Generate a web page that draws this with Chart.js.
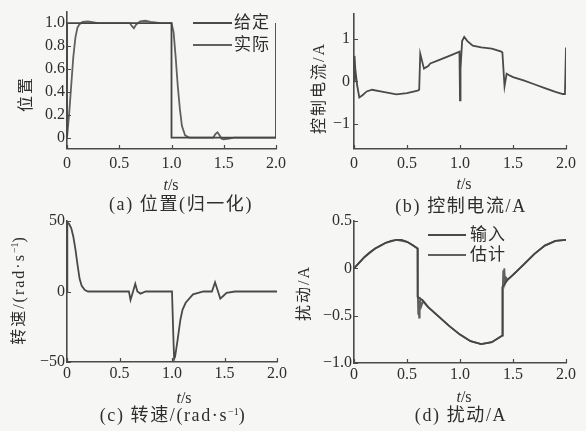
<!DOCTYPE html>
<html>
<head>
<meta charset="utf-8">
<script src="https://cdn.jsdelivr.net/npm/chart.js@4.4.1/dist/chart.umd.min.js"></script>
<style>
  html, body { margin: 0; padding: 0; background: #f6f6f4; }
  #wrap { position: relative; width: 586px; height: 431px; overflow: hidden; }
  canvas { position: absolute; left: 0; top: 0; }
  .t { position: absolute; white-space: nowrap; color: #2e2e2e;
       font-family: "Liberation Serif", "Noto Sans CJK SC", serif; line-height: 1; }
  .c { transform: translate(-50%, -50%); }
  .r { transform: translate(-50%, -50%) rotate(-90deg); }
  .cap { font-size: 18px; letter-spacing: 1.6px; }
  .ax { font-size: 16px; }
  .yt { font-size: 16px; letter-spacing: 2px; }
  .leg { font-size: 17px; letter-spacing: 1px; }
  .ln { position: absolute; height: 0; border-top: 2px solid #4a4a4a; }
  sup { font-size: 10px; vertical-align: 6px; letter-spacing: 0; }
</style>
</head>
<body>
<div id="wrap">
  <canvas id="ca" width="586" height="431"></canvas>
  <canvas id="cb" width="586" height="431"></canvas>
  <canvas id="cc" width="586" height="431"></canvas>
  <canvas id="cd" width="586" height="431"></canvas>

  <div class="t ax c" style="left:171px;top:185px"><i>t</i>/s</div>
  <div class="t ax c" style="left:464px;top:184px"><i>t</i>/s</div>
  <div class="t ax c" style="left:184px;top:398px"><i>t</i>/s</div>
  <div class="t ax c" style="left:464px;top:397px"><i>t</i>/s</div>

  <div class="t cap c" style="left:181px;top:204px">(a) 位置(归一化)</div>
  <div class="t cap c" style="left:461px;top:206px">(b) 控制电流/A</div>
  <div class="t cap c" style="left:173px;top:415px">(c) 转速/(rad·s<sup>−1</sup>)</div>
  <div class="t cap c" style="left:461px;top:415px">(d) 扰动/A</div>

  <div class="t yt r" style="left:26px;top:94px">位置</div>
  <div class="t yt r" style="left:319px;top:88px">控制电流/A</div>
  <div class="t yt r" style="left:18px;top:290px">转速/(rad·s<sup>−1</sup>)</div>
  <div class="t yt r" style="left:304px;top:293px">扰动/A</div>

  <div class="ln" style="left:193px;top:22px;width:39px"></div>
  <div class="t leg" style="left:234px;top:14px">给定</div>
  <div class="ln" style="left:193px;top:44px;width:39px;border-color:#606060"></div>
  <div class="t leg" style="left:234px;top:36px">实际</div>

  <div class="ln" style="left:428px;top:234px;width:38px"></div>
  <div class="t leg" style="left:470px;top:226px">输入</div>
  <div class="ln" style="left:428px;top:254px;width:38px;border-color:#606060"></div>
  <div class="t leg" style="left:470px;top:246px">估计</div>
</div>
<script>
// ---------- tick values / labels ----------
const xTickVals = [0, 0.5, 1.0, 1.5, 2.0];
const xTickLabels = ['0', '0.5', '1.0', '1.5', '2.0'];
const aTickVals = [0, 0.2, 0.4, 0.6, 0.8, 1.0];
const aTickLabels = ['0', '0.2', '0.4', '0.6', '0.8', '1.0'];
const bTickVals = [-1, 0, 1];
const bTickLabels = ['−1', '0', '1'];
const cTickVals = [-50, 0, 50];
const cTickLabels = ['−50', '0', '50'];
const dTickVals = [-1.0, -0.5, 0, 0.5];
const dTickLabels = ['−1.0', '−0.5', '0', '0.5'];

// ---------- (a) position ----------
const tGiven = [0, 0, 1.0, 1.0, 2.0, 2.0];
const posGiven = [0, 1, 1, 0, 0, 1];
const tActual = [0, 0.02, 0.04, 0.06, 0.08, 0.10, 0.12, 0.15, 0.2, 0.3, 0.6, 0.62, 0.64, 0.66, 0.7, 0.75, 0.8, 0.9, 1.0, 1.02, 1.04, 1.06, 1.08, 1.10, 1.13, 1.17, 1.4, 1.42, 1.44, 1.46, 1.48, 1.5, 1.55, 1.6, 2.0];
const posActual = [0, 0.2, 0.45, 0.7, 0.87, 0.96, 0.99, 1.01, 1.015, 1.0, 1.0, 0.975, 0.955, 0.985, 1.015, 1.02, 1.01, 1.0, 1.0, 0.92, 0.7, 0.45, 0.25, 0.1, 0.02, 0.0, 0.0, 0.03, 0.045, 0.02, -0.01, -0.015, -0.01, 0, 0];

// ---------- (b) control current ----------
const tCur = [0, 0.005, 0.012, 0.03, 0.05, 0.08, 0.12, 0.17, 0.25, 0.4, 0.5, 0.6, 0.615, 0.625, 0.64, 0.66, 0.7, 0.72, 0.8, 0.9, 0.985, 0.995, 1.0, 1.005, 1.02, 1.04, 1.07, 1.12, 1.2, 1.3, 1.39, 1.4, 1.42, 1.44, 1.46, 1.5, 1.6, 1.7, 1.8, 1.9, 1.97, 1.99, 2.0];
const current = [0, 0.6, 0.3, -0.1, -0.38, -0.33, -0.24, -0.2, -0.24, -0.31, -0.28, -0.22, -0.2, 0.65, 0.5, 0.3, 0.36, 0.42, 0.5, 0.6, 0.69, 0.7, -0.45, 0.3, 0.95, 1.05, 0.95, 0.84, 0.8, 0.77, 0.7, 0.68, -0.12, 0.18, 0.15, 0.1, 0.02, -0.07, -0.16, -0.25, -0.3, -0.3, 0.8];

// ---------- (c) speed ----------
const tSpd = [0, 0.003, 0.02, 0.04, 0.06, 0.08, 0.1, 0.12, 0.14, 0.17, 0.2, 0.59, 0.605, 0.625, 0.65, 0.67, 0.7, 0.75, 1.0, 1.01, 1.02, 1.03, 1.05, 1.08, 1.1, 1.13, 1.2, 1.3, 1.38, 1.41, 1.43, 1.46, 1.49, 1.52, 1.6, 2.0];
const speed = [0, 49, 48, 45, 39, 30, 19, 9, 4, 1, 0, 0, -6, -1, 5.5, 0, -1.5, 0, 0, -25, -48, -46, -36, -20, -13, -8, -2, 0, 0, 6.5, 2, -5, -3, -1, 0, 0];

// ---------- (d) disturbance ----------
const tIn = [0, 0.05, 0.1, 0.15, 0.2, 0.25, 0.3, 0.35, 0.4, 0.45, 0.5, 0.55, 0.6, 0.6, 0.65, 0.7, 0.8, 0.9, 1.0, 1.1, 1.2, 1.3, 1.4, 1.4, 1.45, 1.5, 1.6, 1.7, 1.8, 1.9, 2.0];
const distIn = [0, 0.06, 0.12, 0.17, 0.21, 0.24, 0.27, 0.29, 0.3, 0.3, 0.28, 0.25, 0.21, -0.3, -0.34, -0.41, -0.51, -0.61, -0.7, -0.77, -0.8, -0.78, -0.71, -0.2, -0.12, -0.07, 0.04, 0.15, 0.24, 0.29, 0.3];
const tEst = [0, 0.1, 0.2, 0.3, 0.4, 0.5, 0.6, 0.602, 0.606, 0.61, 0.614, 0.618, 0.622, 0.628, 0.635, 0.65, 0.7, 0.8, 0.9, 1.0, 1.1, 1.2, 1.3, 1.4, 1.404, 1.408, 1.413, 1.418, 1.425, 1.435, 1.45, 1.5, 1.6, 1.7, 1.8, 1.9, 2.0];
const distEst = [0, 0.12, 0.21, 0.27, 0.3, 0.28, 0.21, -0.3, -0.48, -0.32, -0.52, -0.34, -0.45, -0.36, -0.4, -0.35, -0.41, -0.51, -0.61, -0.7, -0.77, -0.8, -0.78, -0.71, -0.2, -0.02, -0.16, 0.0, -0.15, -0.1, -0.12, -0.07, 0.04, 0.15, 0.24, 0.29, 0.3];

// ---------- helpers ----------
const W = 586, H = 431, YW = 50, XH = 25;
const AXIS = '#4a4a4a';
const FONT = { family: '"Liberation Serif", "Noto Sans CJK SC", serif', size: 16 };
const pts = (ts, vs) => ts.map((t, i) => ({ x: t, y: vs[i] }));

const inwardTicks = {
  id: 'inwardTicks',
  afterDraw(chart) {
    const { ctx, chartArea: a, scales: { x, y } } = chart;
    ctx.save();
    ctx.strokeStyle = AXIS;
    ctx.lineWidth = 1.2;
    ctx.beginPath();
    x.ticks.forEach(t => { const p = Math.round(x.getPixelForValue(t.value)) + 0.5; ctx.moveTo(p, a.bottom); ctx.lineTo(p, a.bottom - 4); });
    y.ticks.forEach(t => { const p = Math.round(y.getPixelForValue(t.value)) + 0.5; ctx.moveTo(a.left, p); ctx.lineTo(a.left + 4, p); });
    ctx.stroke();
    ctx.restore();
  }
};

function makeChart(id, rect, yMin, yMax, yVals, yLabels, datasets, xPad, yPad) {
  return new Chart(document.getElementById(id), {
    type: 'line',
    data: { datasets: datasets.map(d => ({
      data: d.data, borderColor: d.color, borderWidth: 1.8,
      pointRadius: 0, tension: 0, fill: false
    })) },
    options: {
      responsive: false, animation: false, events: [],
      layout: { padding: { left: rect.l - YW, right: W - rect.r, top: rect.t, bottom: H - rect.b - XH } },
      plugins: { legend: { display: false }, tooltip: { enabled: false } },
      scales: {
        x: {
          type: 'linear', min: 0, max: 2,
          afterBuildTicks: s => { s.ticks = xTickVals.map(v => ({ value: v })); },
          afterFit: s => { s.height = XH; },
          grid: { display: false, drawTicks: false },
          border: { display: true, color: AXIS, width: 1.6 },
          ticks: { callback: (v, i) => xTickLabels[i], font: FONT, color: '#2e2e2e', padding: xPad, autoSkip: false, maxRotation: 0 }
        },
        y: {
          type: 'linear', min: yMin, max: yMax,
          afterBuildTicks: s => { s.ticks = yVals.map(v => ({ value: v })); },
          afterFit: s => { s.width = YW; },
          grid: { display: false, drawTicks: false },
          border: { display: true, color: AXIS, width: 1.6 },
          ticks: { callback: (v, i) => yLabels[i], font: FONT, color: '#2e2e2e', padding: yPad, autoSkip: false }
        }
      }
    },
    plugins: [inwardTicks]
  });
}

makeChart('ca', { l: 67, r: 276, t: 7, b: 149 }, -0.1, 1.1, aTickVals, aTickLabels, [
  { data: pts(tGiven, posGiven), color: '#454545' },
  { data: pts(tActual, posActual), color: '#606060' }
], 5, 2);

makeChart('cb', { l: 354, r: 566, t: 6, b: 149 }, -1.6, 1.6, bTickVals, bTickLabels, [
  { data: pts(tCur, current), color: '#4a4a4a' }
], 5, 4);

makeChart('cc', { l: 67, r: 277, t: 221, b: 362 }, -50, 50, cTickVals, cTickLabels, [
  { data: pts(tSpd, speed), color: '#4a4a4a' }
], 2, 2);

makeChart('cd', { l: 354, r: 566, t: 221, b: 363 }, -1.0, 0.5, dTickVals, dTickLabels, [
  { data: pts(tIn, distIn), color: '#454545' },
  { data: pts(tEst, distEst), color: '#606060' }
], 2, 2);
</script>
</body>
</html>
